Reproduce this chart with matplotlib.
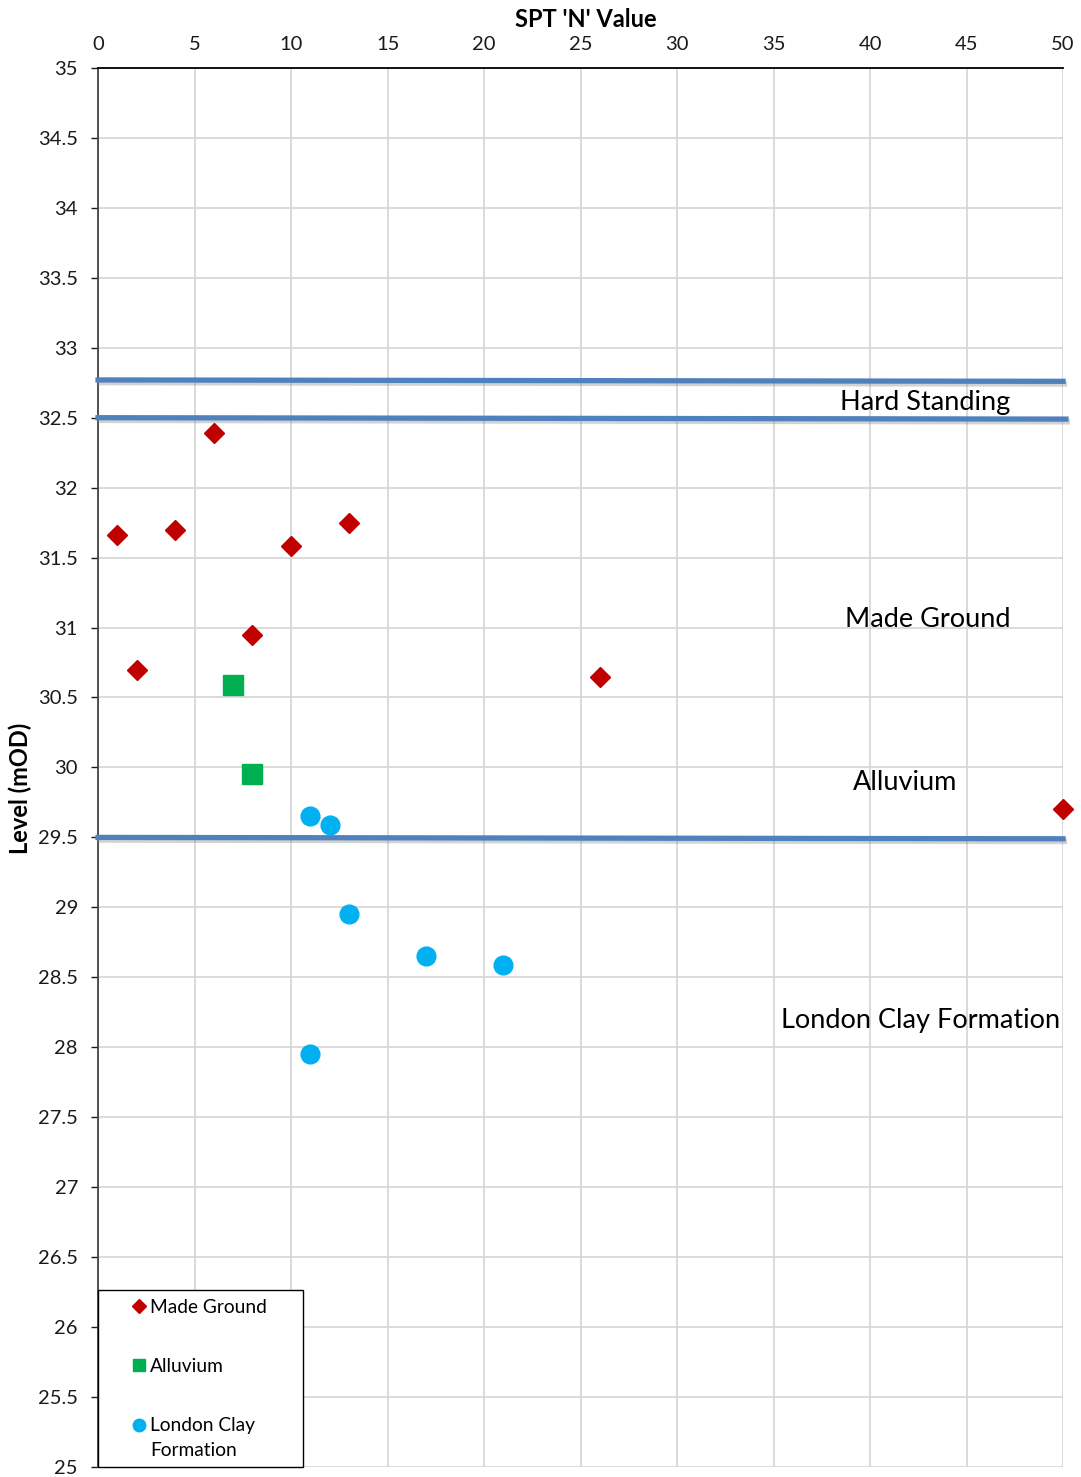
import matplotlib
matplotlib.use('Agg')
import matplotlib.pyplot as plt
import matplotlib.patheffects as pe
from matplotlib.lines import Line2D
from matplotlib.patches import Rectangle
from matplotlib.legend_handler import HandlerLine2D

plt.rcParams['font.family'] = ['Lato', 'DejaVu Sans']

# --- data ---
made_n = [6, 1, 4, 13, 10, 8, 2, 26, 50]
made_lvl = [32.39, 31.66, 31.70, 31.75, 31.58, 30.95, 30.70, 30.65, 29.70]

alluv_n = [7, 8]
alluv_lvl = [30.59, 29.95]

clay_n = [11, 12, 13, 17, 21, 11]
clay_lvl = [29.65, 29.59, 28.95, 28.65, 28.59, 27.95]

# stratum boundary lines drawn across the chart
bound_left = [32.77, 32.50, 29.50]
bound_right = [32.76, 32.49, 29.49]
bound_xend = [50.0, 50.15, 50.0]

strata = ['Hard Standing', 'Made Ground', 'Alluvium', 'London Clay Formation']
strata_x = [42.85, 43.0, 41.8, 42.6]
strata_y = [32.61, 31.06, 29.89, 28.19]

xticks = list(range(0, 51, 5))
yticks = [25 + 0.5 * i for i in range(21)]


class ShiftedMarker(HandlerLine2D):
    # legend marker moved right / up (marker sits next to the text, first line)
    def __init__(self, dx=0.0, dy=0.0, **kw):
        super().__init__(**kw)
        self.dx = dx
        self.dy = dy

    def create_artists(self, legend, orig_handle, xdescent, ydescent,
                       width, height, fontsize, trans):
        arts = super().create_artists(legend, orig_handle, xdescent, ydescent,
                                      width, height, fontsize, trans)
        for a in arts:
            xd, yd = a.get_data()
            a.set_data([v + self.dx * fontsize for v in xd],
                       [v + self.dy * fontsize for v in yd])
        return arts


fig = plt.figure(figsize=(10.81, 14.77), dpi=100)
ax = fig.add_axes([0.0907, 0.0068, 0.8927, 0.9472])

ax.set_xlim(0, 50)
ax.set_ylim(25, 35)
ax.set_xticks(xticks)
ax.set_yticks(yticks)
ax.set_yticklabels([f'{v:g}' for v in yticks])
ax.xaxis.tick_top()
ax.tick_params(axis='x', length=0, labelsize=14.5, pad=11, colors='#1a1a1a')
ax.tick_params(axis='y', length=5, width=1, labelsize=14.5, pad=9.5, colors='#1a1a1a')
ax.grid(True, color='#d4d4d4', linewidth=1.2)
ax.set_axisbelow(True)

for s in ['right', 'bottom']:
    ax.spines[s].set_visible(False)
ax.spines['top'].set_color('black')
ax.spines['top'].set_linewidth(1.3)
ax.spines['left'].set_color('#444444')
ax.spines['left'].set_linewidth(1.3)

fig.text(0.542, 0.987, "SPT 'N' Value", fontsize=17, fontweight='bold',
         ha='center', va='center')
fig.text(0.019, 0.466, 'Level (mOD)', fontsize=17, fontweight='bold',
         ha='center', va='center', rotation=90)

# boundary lines with a soft shadow
for yl, yr, xe in zip(bound_left, bound_right, bound_xend):
    ax.plot([0, xe], [yl, yr], color='#4f81bd', linewidth=3.8, clip_on=False, zorder=3,
            path_effects=[pe.SimpleLineShadow(offset=(1, -2), shadow_color='gray', alpha=0.35),
                          pe.Normal()])

ax.plot(made_n, made_lvl, linestyle='none', marker='D', markersize=10,
        color='#c00000', clip_on=False, zorder=5)
ax.plot(alluv_n, alluv_lvl, linestyle='none', marker='s', markersize=14,
        color='#00b050', clip_on=False, zorder=5)
ax.plot(clay_n, clay_lvl, linestyle='none', marker='o', markersize=13.5,
        color='#00b0f0', clip_on=False, zorder=5)

for name, x, y in zip(strata, strata_x, strata_y):
    ax.text(x, y, name, fontsize=19.5, ha='center', va='center', color='black', zorder=6)

# legend: white box in the lower-left corner, entries inside
ax.add_patch(Rectangle((0, 0), 0.2124, 0.1265, transform=ax.transAxes,
                       facecolor='white', edgecolor='black', linewidth=1.0,
                       clip_on=False, zorder=7))
h_made = Line2D([], [], linestyle='none', marker='D', markersize=7, color='#c00000')
h_alluv = Line2D([], [], linestyle='none', marker='s', markersize=8.5, color='#00b050')
h_clay = Line2D([], [], linestyle='none', marker='o', markersize=9, color='#00b0f0')
labels = ['Made Ground', 'Alluvium', 'London Clay\nFormation']
leg = ax.legend([h_made, h_alluv, h_clay], labels, loc='lower left',
                bbox_to_anchor=(0, 0), borderaxespad=0, fontsize=13.8,
                frameon=False, handlelength=2.13, handletextpad=0.2,
                labelspacing=2.2, borderpad=0.4,
                handler_map={h_made: ShiftedMarker(dx=0.69),
                             h_alluv: ShiftedMarker(dx=0.69),
                             h_clay: ShiftedMarker(dx=0.69, dy=0.72)})
leg.set_zorder(8)
for t in leg.get_texts():
    t.set_linespacing(1.6)

plt.savefig('out.png', dpi=100)
print('saved out.png')
